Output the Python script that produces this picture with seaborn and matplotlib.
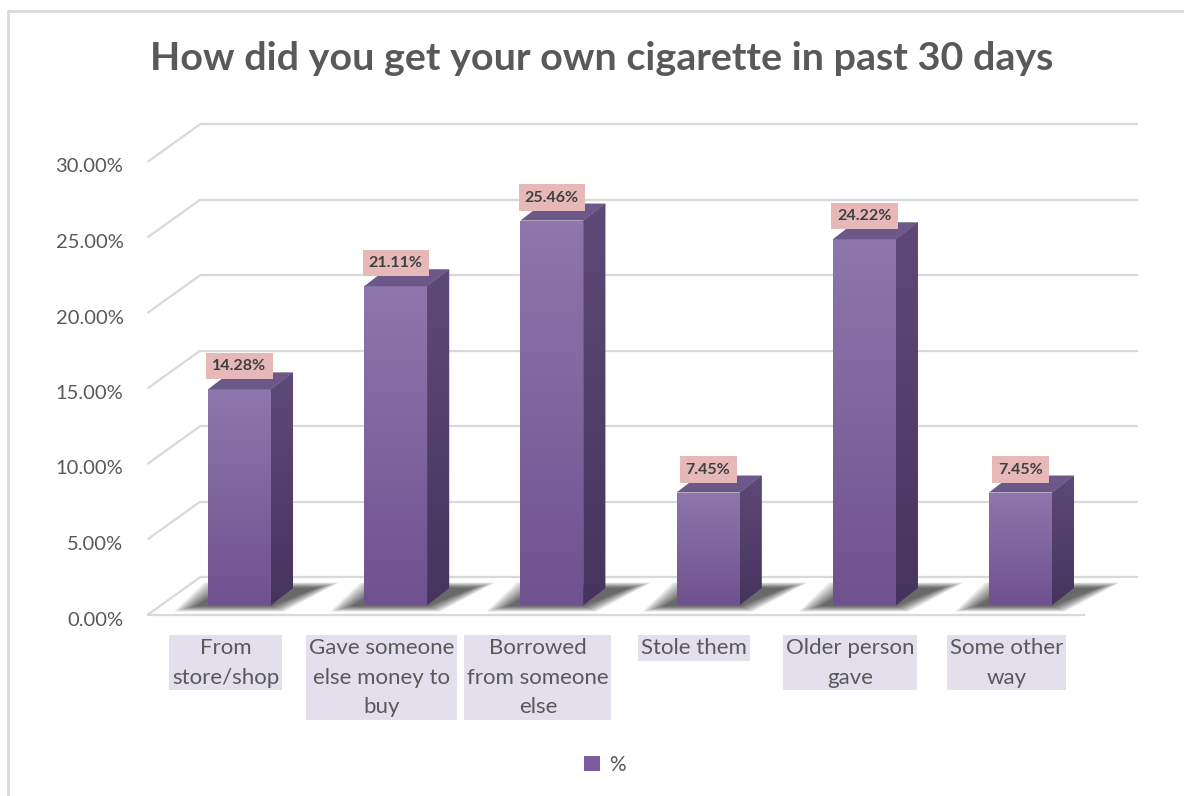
import numpy as np
import pandas as pd
import matplotlib
matplotlib.use("Agg")
import matplotlib.pyplot as plt
import seaborn as sns
from matplotlib.colors import LinearSegmentedColormap
from matplotlib.patches import Polygon, Patch
from matplotlib.lines import Line2D

# ---------------- data ----------------
categories = ["From\nstore/shop", "Gave someone\nelse money to\nbuy", "Borrowed\nfrom someone\nelse",
              "Stole them", "Older person\ngave", "Some other\nway"]
values = [14.28, 21.11, 25.46, 7.45, 24.22, 7.45]
value_labels = ["14.28%", "21.11%", "25.46%", "7.45%", "24.22%", "7.45%"]
yticks = [0, 5, 10, 15, 20, 25, 30]
ytick_labels = ["0.00%", "5.00%", "10.00%", "15.00%", "20.00%", "25.00%", "30.00%"]
title = "How did you get your own cigarette in past 30 days"
series_name = "%"

# ---------------- layout (pixel based) ----------------
W, H = 1184, 796
X0, XS = 239.5, 156.2     # pixel of first category centre, pixels per category
Y0, YS = 605.0, 15.1      # pixel of 0 on the bar plane, pixels per percent

def dx(p):
    return p / XS

def dy(p):
    return p / YS

# depth offsets (data units) relative to bar plane
BAR_DX, BAR_DY = dx(22), dy(17)
FRONT_DX, FRONT_DY = dx(-14), dy(-10)
BACK_DX, BACK_DY = dx(39), dy(28)

sns.set_theme(style="white")
plt.rcParams["font.family"] = ["Lato", "DejaVu Sans"]

fig = plt.figure(figsize=(W / 100, H / 100), dpi=100)
ax = fig.add_axes([0, 0, 1, 1])

df = pd.DataFrame({"cat": categories, "val": values})
sns.barplot(data=df, x="cat", y="val", ax=ax, color="#7A5C9E", width=63 / XS,
            saturation=1, edgecolor="none", zorder=5)

xlim = ((0 - X0) / XS, (W - X0) / XS)
ylim = ((Y0 - H) / YS, Y0 / YS)
ax.set_xlim(*xlim)
ax.set_ylim(*ylim)
ax.axis("off")

grid_c = "#D9D9D9"
left_u, right_u = -0.5, len(categories) - 0.5
# back wall gridlines + left diagonal
for v in yticks:
    ax.plot([left_u + FRONT_DX, left_u + BACK_DX], [v + FRONT_DY, v + BACK_DY],
            color=grid_c, lw=1.6, zorder=1, solid_capstyle="butt")
    ax.plot([left_u + BACK_DX, right_u + BACK_DX], [v + BACK_DY, v + BACK_DY],
            color=grid_c, lw=1.6, zorder=1, solid_capstyle="butt")
# front floor edge
ax.plot([left_u + FRONT_DX, right_u + FRONT_DX], [FRONT_DY, FRONT_DY],
        color=grid_c, lw=1.6, zorder=1, solid_capstyle="butt")

# tick labels (front plane)
for v, lab in zip(yticks, ytick_labels):
    ax.text(left_u + FRONT_DX - dx(24), v + FRONT_DY - dy(5), lab, ha="right", va="center",
            fontsize=14.5, color="#595959")

front_cmap = LinearSegmentedColormap.from_list("f", ["#70518F", "#8D77AC"])
side_cmap = LinearSegmentedColormap.from_list("s", ["#46335E", "#5D4A78"])
grad = np.linspace(0, 1, 256).reshape(-1, 1)

for i, p in enumerate(ax.patches[:len(values)]):
    L = p.get_x()
    R = L + p.get_width()
    v = p.get_height()
    # soft shadow on the floor
    for k in range(14):
        g = k * 1.7
        shadow = Polygon([(L - dx(12 + g), dy(-1 - g * 0.25)), (R + dx(g * 0.6), dy(-1 - g * 0.25)),
                          (R + BAR_DX + dx(24 + g), BAR_DY + dy(g * 0.25)),
                          (L + BAR_DX + dx(-4 - g), BAR_DY + dy(g * 0.25))],
                         closed=True, fc="#000000", ec="none", alpha=0.06, zorder=3)
        ax.add_patch(shadow)
    # front gradient
    im = ax.imshow(grad, extent=[L, R, 0, v], origin="lower", cmap=front_cmap,
                   aspect="auto", zorder=6, interpolation="bilinear")
    im.set_clip_path(p)
    # side face
    side = Polygon([(R, 0), (R + BAR_DX, BAR_DY), (R + BAR_DX, v + BAR_DY), (R, v)],
                   closed=True, fc="#51406B", ec="none", zorder=5)
    ax.add_patch(side)
    ims = ax.imshow(grad, extent=[R, R + BAR_DX, 0, v + BAR_DY], origin="lower",
                    cmap=side_cmap, aspect="auto", zorder=6, interpolation="bilinear")
    ims.set_clip_path(side)
    # top face
    top = Polygon([(L, v), (L + BAR_DX, v + BAR_DY), (R + BAR_DX, v + BAR_DY), (R, v)],
                  closed=True, fc="#6C5888", ec="none", zorder=7)
    ax.add_patch(top)
    # value label
    ax.text((L + R) / 2, v + dy(23), value_labels[i], ha="center", va="center",
            fontsize=11.5, fontweight="bold", color="#404040", zorder=9,
            bbox=dict(boxstyle="square,pad=0.38", fc="#E6B9B8", ec="none"))
    # category label (front plane)
    ax.text((L + R) / 2 + FRONT_DX, FRONT_DY - dy(23), categories[i], ha="center", va="top",
            fontsize=16, color="#595959", linespacing=1.6, zorder=9,
            bbox=dict(boxstyle="square,pad=0.12", fc="#E4DFEC", ec="none"))

ax.set_xlim(*xlim)
ax.set_ylim(*ylim)

fig.text(602 / W, 1 - 59 / H, title, ha="center", va="center", fontsize=28.4,
         fontweight="bold", color="#595959")

# chart frame (top and left edges visible)
fig.add_artist(Line2D([8 / W, 8 / W], [0, 1 - 11 / H], color="#D9D9D9", lw=2, transform=fig.transFigure))
fig.add_artist(Line2D([8 / W, 1], [1 - 11 / H, 1 - 11 / H], color="#D9D9D9", lw=2, transform=fig.transFigure))

handle = Patch(facecolor="#7A5C9E", edgecolor="none")
fig.legend([handle], [series_name], loc="center", bbox_to_anchor=(605 / W, 1 - 765 / H),
           frameon=False, fontsize=15, handlelength=0.75, handleheight=0.75, handletextpad=0.45,
           labelcolor="#595959")

fig.savefig("out.png", dpi=100)
